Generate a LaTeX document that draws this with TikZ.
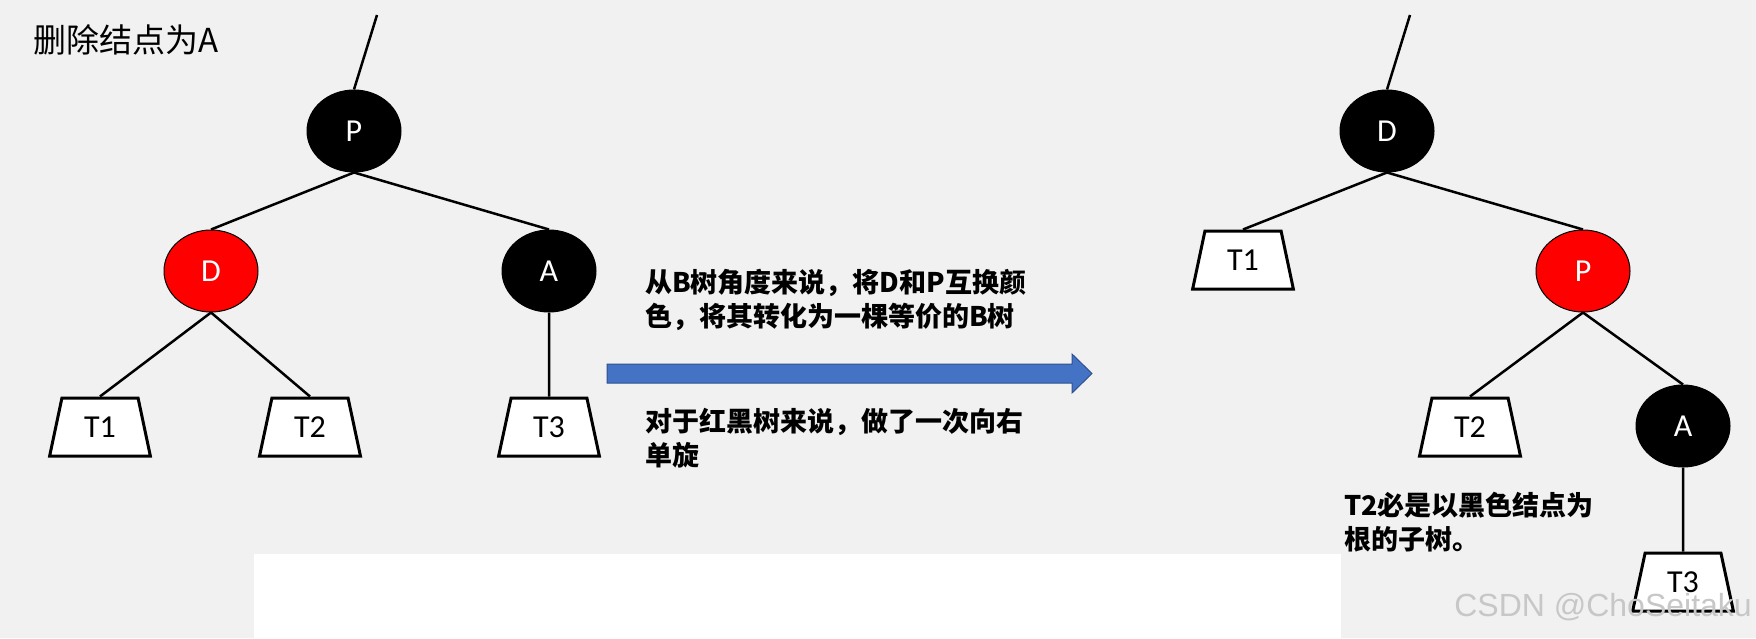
\documentclass[tikz,border=0pt]{standalone}
\usepackage{fontspec}
\setmainfont{Carlito}
\newfontfamily\cjk{Noto Sans CJK SC}
\newfontfamily\wmfont{Liberation Sans}
\usetikzlibrary{shapes.geometric}

\definecolor{bggray}{HTML}{F1F1F1}
\definecolor{rbred}{HTML}{FF0000}
\definecolor{arrowblue}{HTML}{4472C4}
\definecolor{arrowedge}{HTML}{2F528F}

\tikzset{
  blacknode/.style={ellipse, draw=black, line width=1pt, fill=black, text=white,
    minimum width=94pt, minimum height=82pt, inner sep=0pt,
    font=\fontsize{32}{32}\selectfont},
  rednode/.style={blacknode, fill=rbred},
  subtree/.style={trapezium, trapezium stretches=true,
    trapezium left angle=76, trapezium right angle=76,
    draw=black, line width=3pt, fill=white,
    minimum width=101pt, minimum height=58pt, inner sep=0pt,
    font=\fontsize{32}{32}\selectfont},
  treeline/.style={line width=2.5pt},
  note/.style={font=\cjk\bfseries\fontsize{27}{34}\selectfont,
    align=left, anchor=west, inner sep=0pt},
}

\begin{document}
\begin{tikzpicture}[x=1pt, y=-1pt]
    % Background
    \fill[bggray] (0,0) rectangle (1756,638);
    \useasboundingbox (0,0) rectangle (1756,638);
    \fill[white] (254,554) rectangle (1341,638);

    \node[font=\cjk\fontsize{33}{33}\selectfont, anchor=west, inner sep=0pt]
        (title) at (33,40) {删除结点为A};

    % Left side - before rotation
    \coordinate (topL) at (377,15);
    \node[blacknode] (P) at (354,131) {P};
    \node[rednode] (D) at (211,271) {D};
    \node[blacknode] (A) at (549,271) {A};
    \node[subtree] (T1) at (100,427) {T1};
    \node[subtree] (T2) at (310,427) {T2};
    \node[subtree] (T3) at (549,427) {T3};

    \draw[treeline] (topL) -- (P.north);
    \draw[treeline] (P.south) -- (D.north);
    \draw[treeline] (P.south) -- (A.north);
    \draw[treeline] (D.south) -- (T1.north);
    \draw[treeline] (D.south) -- (T2.north);
    \draw[treeline] (A.south) -- (T3.north);

    % Arrow with explanation
    \fill[arrowblue, draw=arrowedge, line width=1pt]
        (607,364) -- (1072,364) -- (1072,354) -- (1092,373.5)
        -- (1072,393) -- (1072,383) -- (607,383) -- cycle;
    \node[note] (bview) at (645,300)
        {从B树角度来说，将D和P互换颜\\色，将其转化为一棵等价的B树};
    \node[note] (rbview) at (645,438)
        {对于红黑树来说，做了一次向右\\单旋};

    % Right side - after rotation
    \coordinate (topR) at (1410,15);
    \node[blacknode] (D2) at (1387,131) {D};
    \node[subtree] (T1b) at (1243,260) {T1};
    \node[rednode] (P2) at (1583,271) {P};
    \node[subtree] (T2b) at (1470,427) {T2};
    \node[blacknode] (A2) at (1683,426) {A};
    \node[subtree] (T3b) at (1683,582) {T3};

    \draw[treeline] (topR) -- (D2.north);
    \draw[treeline] (D2.south) -- (T1b.north);
    \draw[treeline] (D2.south) -- (P2.north);
    \draw[treeline] (P2.south) -- (T2b.north);
    \draw[treeline] (P2.south) -- (A2.north);
    \draw[treeline] (A2.south) -- (T3b.north);

    \node[note] (t2note) at (1344,522)
        {T2必是以黑色结点为\\根的子树。};

    % Watermark
    \node[font=\wmfont\fontsize{32}{32}\selectfont, text=black!22, anchor=east,
        inner sep=0pt] (mark) at (1752,607) {CSDN @ChoSeitaku};
\end{tikzpicture}
\end{document}
